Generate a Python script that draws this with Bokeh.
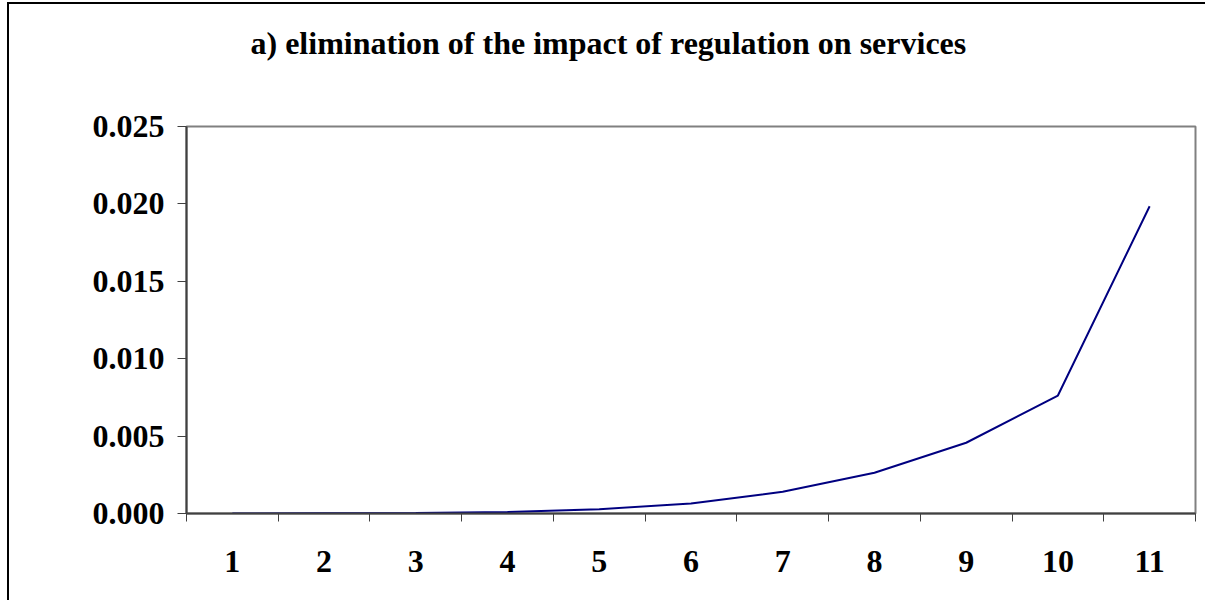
from bokeh.plotting import figure
from bokeh.models import FixedTicker, Title
from bokeh.embed import file_html
from bokeh.resources import INLINE

# data
categories = [1, 2, 3, 4, 5, 6, 7, 8, 9, 10, 11]
values = [0.0000, 0.00001, 0.00003, 0.0001, 0.00028, 0.00065, 0.0014, 0.00263, 0.00457, 0.00762, 0.01985]
y_ticks = [0.000, 0.005, 0.010, 0.015, 0.020, 0.025]
y_tick_labels = ["0.000", "0.005", "0.010", "0.015", "0.020", "0.025"]
title_text = "a) elimination of the impact of regulation on services"

FONT = "Liberation Serif"

p = figure(width=1198, height=598, output_backend="svg", toolbar_location=None,
           x_range=(0.5, 11.5), y_range=(0, 0.025),
           min_border_left=177, min_border_right=12, min_border_top=122, min_border_bottom=89)
p.styles = {"border-left": "2px solid black", "border-top": "2px solid black",
            "margin-top": "2px", "margin-left": "7px", "box-sizing": "border-box"}

p.grid.visible = False
p.background_fill_color = "white"
p.border_fill_color = "white"
p.outline_line_color = "#808080"
p.outline_line_width = 2

# spacer panel between the frame and the title
spacer = Title(text=" ", standoff=58, text_font_size="1px")
p.add_layout(spacer, "above")

title = Title(text=title_text, align="left", offset=64, standoff=10, vertical_align="bottom",
              text_font=FONT, text_font_size="32px", text_font_style="bold", text_color="black")
p.add_layout(title, "above")

p.line(categories, values, line_color="#000080", line_width=2)

# x axis: labels at category centres, ticks at category boundaries
xa = p.xaxis[0]
xa.ticker = FixedTicker(ticks=categories, minor_ticks=[c - 0.5 for c in categories] + [categories[-1] + 0.5])
xa.major_tick_out = 0
xa.major_tick_in = 0
xa.minor_tick_out = 8
xa.minor_tick_in = 0
xa.minor_tick_line_color = "#404040"
xa.axis_line_color = "#404040"
xa.axis_line_width = 2
xa.major_label_text_font = FONT
xa.major_label_text_font_size = "32px"
xa.major_label_text_font_style = "bold"
xa.major_label_text_color = "black"
xa.major_label_standoff = 29

ya = p.yaxis[0]
ya.ticker = FixedTicker(ticks=y_ticks)
ya.major_label_overrides = {v: s for v, s in zip(y_ticks, y_tick_labels)}
ya.major_tick_out = 9
ya.major_tick_in = 0
ya.minor_tick_out = 0
ya.minor_tick_in = 0
ya.major_tick_line_color = "#404040"
ya.axis_line_color = "#404040"
ya.axis_line_width = 2
ya.major_label_text_font = FONT
ya.major_label_text_font_size = "32px"
ya.major_label_text_font_style = "bold"
ya.major_label_text_color = "black"
ya.major_label_standoff = 13

open("out.html", "w").write(file_html(p, INLINE))
